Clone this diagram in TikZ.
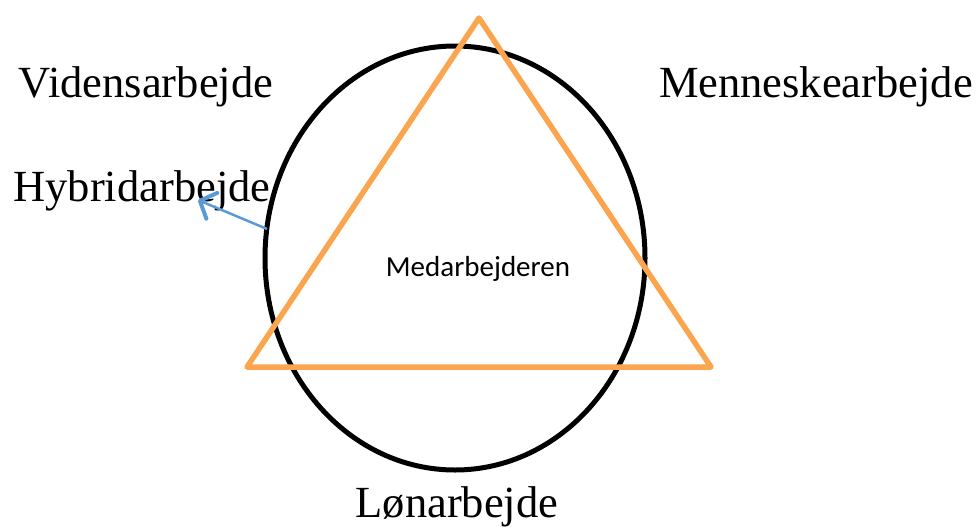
\documentclass[tikz,border=0pt]{standalone}
\usepackage{fontspec}
\setmainfont{Liberation Serif}
\newfontfamily\calib{Carlito}
\usetikzlibrary{arrows.meta}
\definecolor{triorange}{HTML}{FBA64F}
\definecolor{arrowblue}{HTML}{5B9BD5}
\begin{document}
\begin{tikzpicture}[x=1pt,y=-1pt,
  lbl/.style={font=\fontsize{44.5}{44.5}\selectfont, inner sep=0pt, anchor=base},
  inner/.style={font=\calib\fontsize{29}{29}\selectfont, inner sep=0pt, anchor=base}]
\useasboundingbox (0,0) rectangle (977,528);
\draw[line width=5pt] (455,258) ellipse [x radius=190, y radius=212];
\path (479,18) coordinate (apex) (247,367) coordinate (bl) (711,367) coordinate (br);
\draw[triorange, line width=5.5pt, line join=round] (apex) -- (bl) -- (br) -- cycle;
\node[lbl] (viden) at (146,97) {Vidensarbejde};
\node[lbl] (menne) at (816,97) {Menneskearbejde};
\node[lbl] (hybrid) at (142,201) {Hybridarbejde};
\node[lbl] (lon) at (457,517) {Lønarbejde};
\node[inner] (med) at (478,276) {Medarbejderen};
\coordinate (arrstart) at (267,229);
\coordinate (arrend) at (198,200);
\draw[arrowblue, line width=2.5pt, -{Straight Barb[length=13pt,width=28pt,line width=4pt,round]}] (arrstart) -- (arrend);
\end{tikzpicture}
\end{document}
